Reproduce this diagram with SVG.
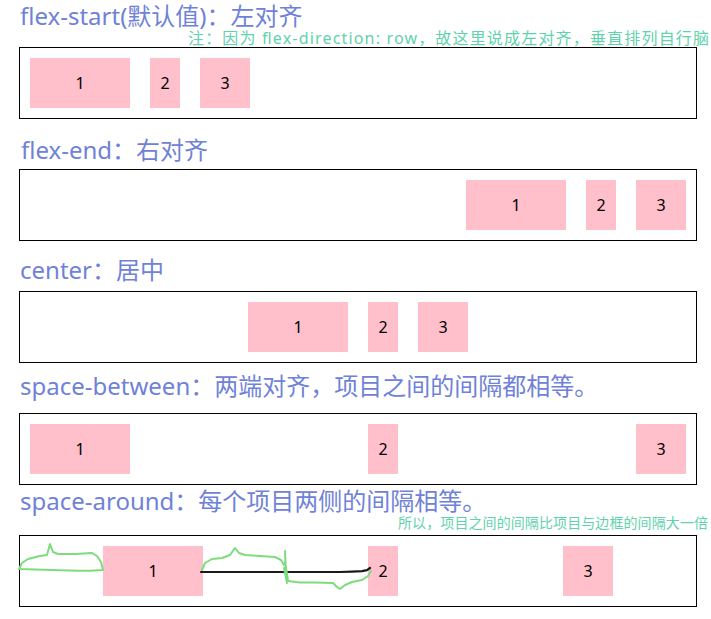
<svg xmlns="http://www.w3.org/2000/svg" width="711" height="619" viewBox="0 0 711 619">
<style>
  .title { font-family: "Noto Sans", "Noto Sans CJK SC", sans-serif; font-size: 24px; fill: #6f82d8; }
  .note { font-family: "Noto Sans", "Noto Sans CJK SC", sans-serif; fill: #5fd3ad; }
  .box { fill: #ffffff; stroke: #000000; stroke-width: 1; }
  .item { fill: #ffc0cb; }
  .num { font-family: "Noto Sans", "Noto Sans CJK SC", sans-serif; font-size: 16px; fill: #000000; text-anchor: middle; }
  .scribble { fill: none; stroke: #7ddc7d; stroke-width: 2; stroke-linejoin: round; stroke-linecap: round; }
  .ink { fill: none; stroke: #1a1a1a; stroke-width: 2.2; stroke-linecap: round; stroke-linejoin: round; }
</style>
<rect width="711" height="619" fill="#ffffff"/>

<g id="titles">
  <text class="title" x="20" y="25">flex-start(默认值)：左对齐</text>
  <text class="note" x="188" y="44" font-size="16" textLength="521" lengthAdjust="spacing">注：因为 flex-direction: row，故这里说成左对齐，垂直排列自行脑</text>
  <text class="title" x="21" y="159">flex-end：右对齐</text>
  <text class="title" x="20" y="279">center：居中</text>
  <text class="title" x="20" y="395">space-between：两端对齐，项目之间的间隔都相等。</text>
  <text class="title" x="20" y="510">space-around：每个项目两侧的间隔相等。</text>
  <text class="note" x="398" y="528" font-size="14" textLength="310" lengthAdjust="spacing">所以，项目之间的间隔比项目与边框的间隔大一倍</text>
</g>

<g id="flex-start">
  <rect class="box" x="19.5" y="47.5" width="677" height="71"/>
  <rect class="item" x="30" y="58" width="100" height="50"/>
  <rect class="item" x="150" y="58" width="30" height="50"/>
  <rect class="item" x="200" y="58" width="50" height="50"/>
  <text class="num" x="80" y="89">1</text>
  <text class="num" x="165" y="89">2</text>
  <text class="num" x="225" y="89">3</text>
</g>

<g id="flex-end">
  <rect class="box" x="19.5" y="169.5" width="677" height="71"/>
  <rect class="item" x="466" y="180" width="100" height="50"/>
  <rect class="item" x="586" y="180" width="30" height="50"/>
  <rect class="item" x="636" y="180" width="50" height="50"/>
  <text class="num" x="516" y="211">1</text>
  <text class="num" x="601" y="211">2</text>
  <text class="num" x="661" y="211">3</text>
</g>

<g id="center">
  <rect class="box" x="19.5" y="291.5" width="677" height="71"/>
  <rect class="item" x="248" y="302" width="100" height="50"/>
  <rect class="item" x="368" y="302" width="30" height="50"/>
  <rect class="item" x="418" y="302" width="50" height="50"/>
  <text class="num" x="298" y="333">1</text>
  <text class="num" x="383" y="333">2</text>
  <text class="num" x="443" y="333">3</text>
</g>

<g id="space-between">
  <rect class="box" x="19.5" y="413.5" width="677" height="71"/>
  <rect class="item" x="30" y="424" width="100" height="50"/>
  <rect class="item" x="368" y="424" width="30" height="50"/>
  <rect class="item" x="636" y="424" width="50" height="50"/>
  <text class="num" x="80" y="455">1</text>
  <text class="num" x="383" y="455">2</text>
  <text class="num" x="661" y="455">3</text>
</g>

<g id="space-around">
  <rect class="box" x="19.5" y="535.5" width="677" height="71"/>
  <rect class="item" x="103" y="546" width="100" height="50"/>
  <rect class="item" x="368" y="546" width="30" height="50"/>
  <rect class="item" x="563" y="546" width="50" height="50"/>
  <text class="num" x="153" y="577">1</text>
  <text class="num" x="383" y="577">2</text>
  <text class="num" x="588" y="577">3</text>
</g>

<g id="connectors">
  <path class="ink" d="M201,572 L340,572 L352,571.6 L362,571.2 L367,570.2 L370,568"/>
  <path class="scribble" d="M19,569 L22,563 L28,559 L40,556 L47,555 L50,544 L53,552 L58,554 L75,554 L92,553 L97,556 L101,562 L103,570 L90,570.8 L80,570.8 L60,570.2 L19,569"/>
  <path class="scribble" d="M202,570 L205,563 L212,559 L222,558 L230,555 L235,548 L239,553 L245,555 L260,556 L275,557 L281,560 L284,565"/>
  <path class="scribble" stroke-width="3" d="M285,551 L286,576 L284,568 L287,583 L285,562 L288,580 L286,572"/>
  <path class="scribble" d="M288,581 L300,582.5 L315,582.5 L333,583 L337,587 L340,589 L345,585 L352,582 L362,580 L368,576 L371,571"/>
</g>
</svg>
